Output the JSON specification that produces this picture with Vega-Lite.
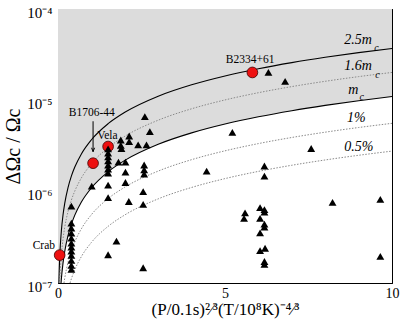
{
  "$schema": "https://vega.github.io/schema/vega-lite/v6.json",
  "autosize": "none",
  "padding": {"left": 58, "top": 9, "right": 9, "bottom": 44},
  "width": 334,
  "height": 274,
  "background": "white",
  "config": {
    "view": {"stroke": "black", "strokeWidth": 1},
    "axis": {"domainColor": "black", "tickColor": "black", "labelColor": "black", "titleColor": "black", "labelFont": "Liberation Serif", "titleFont": "Liberation Serif", "titleFontWeight": "normal", "grid": false, "tickWidth": 1, "domainWidth": 1}
  },
  "datasets": {
    "shade": [
      {"x": 0, "y": 1e-7}, {"x": 0.0909, "y": 1e-7}, {"x": 0.1, "y": 1.1e-7}, {"x": 0.15, "y": 1.65e-7}, {"x": 0.2, "y": 2.2e-7}, {"x": 0.3, "y": 3.3e-7}, {"x": 0.4, "y": 4.4e-7}, {"x": 0.5, "y": 5.5e-7}, {"x": 0.7, "y": 7.7e-7}, {"x": 1, "y": 1.1e-6}, {"x": 1.5, "y": 1.65e-6}, {"x": 2, "y": 2.2e-6}, {"x": 3, "y": 3.3e-6}, {"x": 4, "y": 4.4e-6}, {"x": 5, "y": 5.5e-6}, {"x": 6, "y": 6.6e-6}, {"x": 7, "y": 7.7e-6}, {"x": 8, "y": 8.8e-6}, {"x": 9, "y": 9.9e-6}, {"x": 10, "y": 1.1e-5}
    ],
    "curves": [
      {"curve": "2.5mc", "x": 0.027, "y": 1e-7}, {"curve": "2.5mc", "x": 0.03, "y": 1.11e-7}, {"curve": "2.5mc", "x": 0.04, "y": 1.48e-7}, {"curve": "2.5mc", "x": 0.05, "y": 1.85e-7}, {"curve": "2.5mc", "x": 0.07, "y": 2.59e-7}, {"curve": "2.5mc", "x": 0.1, "y": 3.7e-7}, {"curve": "2.5mc", "x": 0.15, "y": 5.55e-7}, {"curve": "2.5mc", "x": 0.2, "y": 7.4e-7}, {"curve": "2.5mc", "x": 0.3, "y": 1.11e-6}, {"curve": "2.5mc", "x": 0.4, "y": 1.48e-6}, {"curve": "2.5mc", "x": 0.5, "y": 1.85e-6}, {"curve": "2.5mc", "x": 0.7, "y": 2.59e-6}, {"curve": "2.5mc", "x": 1, "y": 3.7e-6}, {"curve": "2.5mc", "x": 1.5, "y": 5.55e-6}, {"curve": "2.5mc", "x": 2, "y": 7.4e-6}, {"curve": "2.5mc", "x": 3, "y": 1.11e-5}, {"curve": "2.5mc", "x": 4, "y": 1.48e-5}, {"curve": "2.5mc", "x": 5, "y": 1.85e-5}, {"curve": "2.5mc", "x": 6, "y": 2.22e-5}, {"curve": "2.5mc", "x": 7, "y": 2.59e-5}, {"curve": "2.5mc", "x": 8, "y": 2.96e-5}, {"curve": "2.5mc", "x": 9, "y": 3.33e-5}, {"curve": "2.5mc", "x": 10, "y": 3.7e-5},
      {"curve": "1.6mc", "x": 0.0495, "y": 1e-7}, {"curve": "1.6mc", "x": 0.07, "y": 1.414e-7}, {"curve": "1.6mc", "x": 0.1, "y": 2.02e-7}, {"curve": "1.6mc", "x": 0.15, "y": 3.03e-7}, {"curve": "1.6mc", "x": 0.2, "y": 4.04e-7}, {"curve": "1.6mc", "x": 0.3, "y": 6.06e-7}, {"curve": "1.6mc", "x": 0.4, "y": 8.08e-7}, {"curve": "1.6mc", "x": 0.5, "y": 1.01e-6}, {"curve": "1.6mc", "x": 0.7, "y": 1.414e-6}, {"curve": "1.6mc", "x": 1, "y": 2.02e-6}, {"curve": "1.6mc", "x": 1.5, "y": 3.03e-6}, {"curve": "1.6mc", "x": 2, "y": 4.04e-6}, {"curve": "1.6mc", "x": 3, "y": 6.06e-6}, {"curve": "1.6mc", "x": 4, "y": 8.08e-6}, {"curve": "1.6mc", "x": 5, "y": 1.01e-5}, {"curve": "1.6mc", "x": 6, "y": 1.212e-5}, {"curve": "1.6mc", "x": 7, "y": 1.414e-5}, {"curve": "1.6mc", "x": 8, "y": 1.616e-5}, {"curve": "1.6mc", "x": 9, "y": 1.818e-5}, {"curve": "1.6mc", "x": 10, "y": 2.02e-5},
      {"curve": "mc", "x": 0.0909, "y": 1e-7}, {"curve": "mc", "x": 0.1, "y": 1.1e-7}, {"curve": "mc", "x": 0.15, "y": 1.65e-7}, {"curve": "mc", "x": 0.2, "y": 2.2e-7}, {"curve": "mc", "x": 0.3, "y": 3.3e-7}, {"curve": "mc", "x": 0.4, "y": 4.4e-7}, {"curve": "mc", "x": 0.5, "y": 5.5e-7}, {"curve": "mc", "x": 0.7, "y": 7.7e-7}, {"curve": "mc", "x": 1, "y": 1.1e-6}, {"curve": "mc", "x": 1.5, "y": 1.65e-6}, {"curve": "mc", "x": 2, "y": 2.2e-6}, {"curve": "mc", "x": 3, "y": 3.3e-6}, {"curve": "mc", "x": 4, "y": 4.4e-6}, {"curve": "mc", "x": 5, "y": 5.5e-6}, {"curve": "mc", "x": 6, "y": 6.6e-6}, {"curve": "mc", "x": 7, "y": 7.7e-6}, {"curve": "mc", "x": 8, "y": 8.8e-6}, {"curve": "mc", "x": 9, "y": 9.9e-6}, {"curve": "mc", "x": 10, "y": 1.1e-5},
      {"curve": "1pct", "x": 0.1786, "y": 1e-7}, {"curve": "1pct", "x": 0.2, "y": 1.12e-7}, {"curve": "1pct", "x": 0.25, "y": 1.4e-7}, {"curve": "1pct", "x": 0.3, "y": 1.68e-7}, {"curve": "1pct", "x": 0.4, "y": 2.24e-7}, {"curve": "1pct", "x": 0.5, "y": 2.8e-7}, {"curve": "1pct", "x": 0.7, "y": 3.92e-7}, {"curve": "1pct", "x": 1, "y": 5.6e-7}, {"curve": "1pct", "x": 1.5, "y": 8.4e-7}, {"curve": "1pct", "x": 2, "y": 1.12e-6}, {"curve": "1pct", "x": 3, "y": 1.68e-6}, {"curve": "1pct", "x": 4, "y": 2.24e-6}, {"curve": "1pct", "x": 5, "y": 2.8e-6}, {"curve": "1pct", "x": 6, "y": 3.36e-6}, {"curve": "1pct", "x": 7, "y": 3.92e-6}, {"curve": "1pct", "x": 8, "y": 4.48e-6}, {"curve": "1pct", "x": 9, "y": 5.04e-6}, {"curve": "1pct", "x": 10, "y": 5.6e-6},
      {"curve": "0.5pct", "x": 0.36, "y": 1e-7}, {"curve": "0.5pct", "x": 0.4, "y": 1.112e-7}, {"curve": "0.5pct", "x": 0.5, "y": 1.39e-7}, {"curve": "0.5pct", "x": 0.7, "y": 1.946e-7}, {"curve": "0.5pct", "x": 1, "y": 2.78e-7}, {"curve": "0.5pct", "x": 1.5, "y": 4.17e-7}, {"curve": "0.5pct", "x": 2, "y": 5.56e-7}, {"curve": "0.5pct", "x": 3, "y": 8.34e-7}, {"curve": "0.5pct", "x": 4, "y": 1.112e-6}, {"curve": "0.5pct", "x": 5, "y": 1.39e-6}, {"curve": "0.5pct", "x": 6, "y": 1.668e-6}, {"curve": "0.5pct", "x": 7, "y": 1.946e-6}, {"curve": "0.5pct", "x": 8, "y": 2.224e-6}, {"curve": "0.5pct", "x": 9, "y": 2.502e-6}, {"curve": "0.5pct", "x": 10, "y": 2.78e-6}
    ],
    "tri": [
      {"x": 0.40, "y": 6.95e-7}, {"x": 0.40, "y": 4.52e-7}, {"x": 0.40, "y": 3.98e-7}, {"x": 0.40, "y": 3.51e-7}, {"x": 0.40, "y": 3.10e-7}, {"x": 0.40, "y": 2.73e-7}, {"x": 0.40, "y": 2.47e-7}, {"x": 0.40, "y": 2.23e-7}, {"x": 0.40, "y": 2.01e-7}, {"x": 0.40, "y": 1.77e-7}, {"x": 0.40, "y": 1.56e-7}, {"x": 0.40, "y": 1.41e-7},
      {"x": 1.01, "y": 1.15e-6}, {"x": 1.50, "y": 1.18e-6}, {"x": 1.50, "y": 8.6e-7}, {"x": 1.50, "y": 2.04e-7}, {"x": 1.75, "y": 2.87e-7}, {"x": 2.55, "y": 1.47e-7}, {"x": 2.02, "y": 1.26e-6}, {"x": 2.55, "y": 1.0e-6}, {"x": 2.12, "y": 7.8e-7}, {"x": 2.55, "y": 7.26e-7},
      {"x": 4.45, "y": 1.68e-6}, {"x": 5.22, "y": 4.45e-6}, {"x": 6.30, "y": 2.02e-5}, {"x": 6.80, "y": 1.61e-5}, {"x": 7.58, "y": 2.97e-6}, {"x": 8.22, "y": 7.63e-7}, {"x": 9.65, "y": 8.23e-7}, {"x": 9.65, "y": 1.96e-7},
      {"x": 6.18, "y": 1.91e-6}, {"x": 6.18, "y": 1.48e-6}, {"x": 5.60, "y": 5.87e-7}, {"x": 5.57, "y": 5.09e-7}, {"x": 6.05, "y": 6.69e-7}, {"x": 6.18, "y": 6.36e-7}, {"x": 6.18, "y": 5.97e-7}, {"x": 6.05, "y": 5.09e-7}, {"x": 6.18, "y": 4.41e-7}, {"x": 6.18, "y": 4.1e-7}, {"x": 6.05, "y": 3.54e-7}, {"x": 6.05, "y": 2.26e-7}, {"x": 6.20, "y": 2.40e-7}, {"x": 6.18, "y": 1.60e-7}, {"x": 6.18, "y": 1.72e-7},
      {"x": 2.60, "y": 6.64e-6}, {"x": 2.75, "y": 4.55e-6}, {"x": 2.13, "y": 4.07e-6}, {"x": 1.88, "y": 3.68e-6}, {"x": 2.13, "y": 3.53e-6}, {"x": 1.88, "y": 3.21e-6}, {"x": 2.40, "y": 3.25e-6}, {"x": 2.65, "y": 3.25e-6}, {"x": 1.90, "y": 2.97e-6},
      {"x": 1.50, "y": 2.94e-6}, {"x": 1.50, "y": 2.65e-6}, {"x": 1.50, "y": 2.40e-6}, {"x": 1.50, "y": 2.17e-6}, {"x": 1.50, "y": 1.96e-6}, {"x": 1.50, "y": 1.77e-6}, {"x": 1.50, "y": 1.60e-6},
      {"x": 1.81, "y": 2.11e-6}, {"x": 2.02, "y": 2.11e-6}, {"x": 2.02, "y": 1.64e-6}, {"x": 2.58, "y": 1.96e-6}, {"x": 2.58, "y": 1.73e-6}, {"x": 2.58, "y": 1.56e-6}
    ],
    "pulsars": [
      {"name": "Crab", "x": 0.05, "y": 2.02e-7}, {"name": "B1706-44", "x": 1.05, "y": 2.05e-6}, {"name": "Vela", "x": 1.50, "y": 3.12e-6}, {"name": "B2334+61", "x": 5.82, "y": 2.02e-5}
    ],
    "arrow": [{"x": 1.05, "y": 5.9e-6, "y2": 2.74e-6}],
    "names": [
      {"label": "Vela", "x": 1.48, "y": 4.08e-6}, {"label": "B1706-44", "x": 1.01, "y": 7.35e-6}, {"label": "B2334+61", "x": 5.75, "y": 2.79e-5}
    ],
    "curvelabels": [
      {"label": "2.5m", "x": 8.57, "y": 4.61e-5}, {"label": "1.6m", "x": 8.57, "y": 2.35e-5}, {"label": "m", "x": 8.69, "y": 1.30e-5}, {"label": "1%", "x": 8.65, "y": 6.38e-6}, {"label": "0.5%", "x": 8.57, "y": 3.11e-6}
    ],
    "subs": [
      {"label": "c", "x": 9.47, "y": 3.77e-5}, {"label": "c", "x": 9.50, "y": 1.91e-5}, {"label": "c", "x": 9.03, "y": 1.10e-5}
    ]
  },
  "resolve": {"axis": {"x": "independent", "y": "independent"}},
  "layer": [
    {
      "data": {"name": "shade"},
      "mark": {"type": "area", "fill": "#dcdcdc", "interpolate": "monotone"},
      "encoding": {
        "x": {"field": "x", "type": "quantitative", "scale": {"domain": [0, 10], "nice": false, "zero": false},
          "axis": {"orient": "bottom", "values": [0, 1, 2, 3, 4, 5, 6, 7, 8, 9, 10], "labelExpr": "datum.value % 5 === 0 ? datum.label : ''", "tickSize": 0, "labelPadding": 3, "labelFontSize": 14, "labelFlush": false, "labelOverlap": false,
            "title": "(P/0.1s)²⁄³(T/10⁸K)⁻⁴⁄³", "titleFontSize": 17, "titlePadding": 1,
            "encode": {"ticks": {"update": {"y2": {"signal": "datum.value % 5 === 0 ? -8 : -4"}}}}}},
        "y": {"field": "y", "type": "quantitative", "scale": {"type": "log", "domain": [1e-7, 1e-4], "nice": false},
          "axis": {"orient": "left", "values": [1e-7, 2e-7, 3e-7, 4e-7, 5e-7, 6e-7, 7e-7, 8e-7, 9e-7, 1e-6, 2e-6, 3e-6, 4e-6, 5e-6, 6e-6, 7e-6, 8e-6, 9e-6, 1e-5, 2e-5, 3e-5, 4e-5, 5e-5, 6e-5, 7e-5, 8e-5, 9e-5, 1e-4],
            "labelExpr": "round(log(datum.value)/LN10*100) == -700 ? '10⁻⁷' : round(log(datum.value)/LN10*100) == -600 ? '10⁻⁶' : round(log(datum.value)/LN10*100) == -500 ? '10⁻⁵' : round(log(datum.value)/LN10*100) == -400 ? '10⁻⁴' : ''",
            "tickSize": 0, "labelPadding": 6, "labelFontSize": 15, "labelFlush": false, "labelOverlap": false, "labelOffset": 3,
            "title": "ΔΩc / Ωc", "titleFontSize": 20, "titlePadding": 3,
            "encode": {"ticks": {"update": {"x2": {"signal": "abs(log(datum.value)/LN10 - round(log(datum.value)/LN10)) < 0.001 ? 8 : 4"}}}}}},
        "y2": {"datum": 1e-4}
      }
    },
    {
      "data": {"name": "curves"},
      "transform": [{"filter": {"field": "curve", "oneOf": ["2.5mc", "mc"]}}],
      "mark": {"type": "line", "color": "black", "strokeWidth": 1.1, "interpolate": "monotone"},
      "encoding": {
        "x": {"field": "x", "type": "quantitative", "axis": null},
        "y": {"field": "y", "type": "quantitative", "axis": null},
        "detail": {"field": "curve"}
      }
    },
    {
      "data": {"name": "curves"},
      "transform": [{"filter": {"field": "curve", "oneOf": ["1.6mc", "1pct", "0.5pct"]}}],
      "mark": {"type": "line", "color": "#8a8a8a", "strokeWidth": 1, "strokeDash": [1.5, 1.5], "interpolate": "monotone"},
      "encoding": {
        "x": {"field": "x", "type": "quantitative", "axis": null},
        "y": {"field": "y", "type": "quantitative", "axis": null},
        "detail": {"field": "curve"}
      }
    },
    {
      "data": {"name": "arrow"},
      "mark": {"type": "rule", "color": "black", "strokeWidth": 1},
      "encoding": {
        "x": {"field": "x", "type": "quantitative", "axis": null},
        "y": {"field": "y", "type": "quantitative", "axis": null},
        "y2": {"field": "y2"}
      }
    },
    {
      "data": {"name": "arrow"},
      "mark": {"type": "point", "shape": "M-1,-2.6L0,0L1,-2.6", "size": 9, "stroke": "black", "strokeWidth": 1, "filled": false, "opacity": 1},
      "encoding": {
        "x": {"field": "x", "type": "quantitative", "axis": null},
        "y": {"field": "y2", "type": "quantitative", "axis": null}
      }
    },
    {
      "data": {"name": "pulsars"},
      "mark": {"type": "point", "shape": "circle", "filled": true, "size": 115, "fill": "#ee1111", "stroke": "#400000", "strokeWidth": 0.8, "opacity": 1},
      "encoding": {
        "x": {"field": "x", "type": "quantitative", "axis": null},
        "y": {"field": "y", "type": "quantitative", "axis": null}
      }
    },
    {
      "data": {"name": "tri"},
      "mark": {"type": "point", "shape": "triangle-up", "filled": true, "size": 62, "color": "black", "opacity": 1},
      "encoding": {
        "x": {"field": "x", "type": "quantitative",
          "axis": {"orient": "top", "values": [0, 1, 2, 3, 4, 5, 6, 7, 8, 9, 10], "labels": false, "tickSize": 0, "title": null,
            "encode": {"ticks": {"update": {"y2": {"signal": "datum.value % 5 === 0 ? 8 : 4"}}}}}},
        "y": {"field": "y", "type": "quantitative",
          "axis": {"orient": "right", "values": [1e-7, 2e-7, 3e-7, 4e-7, 5e-7, 6e-7, 7e-7, 8e-7, 9e-7, 1e-6, 2e-6, 3e-6, 4e-6, 5e-6, 6e-6, 7e-6, 8e-6, 9e-6, 1e-5, 2e-5, 3e-5, 4e-5, 5e-5, 6e-5, 7e-5, 8e-5, 9e-5, 1e-4], "labels": false, "tickSize": 0, "title": null,
            "encode": {"ticks": {"update": {"x2": {"signal": "abs(log(datum.value)/LN10 - round(log(datum.value)/LN10)) < 0.001 ? -8 : -4"}}}}}}
      }
    },
    {
      "data": {"values": [{"label": "Crab", "x": 0, "y": 2.53e-7}]},
      "mark": {"type": "text", "align": "right", "baseline": "middle", "dx": -3, "font": "Liberation Serif", "fontSize": 11.5, "color": "black"},
      "encoding": {
        "x": {"field": "x", "type": "quantitative", "axis": null},
        "y": {"field": "y", "type": "quantitative", "axis": null},
        "text": {"field": "label"}
      }
    },
    {
      "data": {"name": "names"},
      "mark": {"type": "text", "align": "center", "baseline": "middle", "font": "Liberation Serif", "fontSize": 11.5, "color": "black"},
      "encoding": {
        "x": {"field": "x", "type": "quantitative", "axis": null},
        "y": {"field": "y", "type": "quantitative", "axis": null},
        "text": {"field": "label"}
      }
    },
    {
      "data": {"name": "curvelabels"},
      "mark": {"type": "text", "align": "left", "baseline": "middle", "font": "Liberation Serif", "fontStyle": "italic", "fontSize": 14, "color": "black"},
      "encoding": {
        "x": {"field": "x", "type": "quantitative", "axis": null},
        "y": {"field": "y", "type": "quantitative", "axis": null},
        "text": {"field": "label"}
      }
    },
    {
      "data": {"name": "subs"},
      "mark": {"type": "text", "align": "left", "baseline": "middle", "font": "Liberation Serif", "fontStyle": "italic", "fontSize": 10, "color": "black"},
      "encoding": {
        "x": {"field": "x", "type": "quantitative", "axis": null},
        "y": {"field": "y", "type": "quantitative", "axis": null},
        "text": {"field": "label"}
      }
    }
  ]
}
